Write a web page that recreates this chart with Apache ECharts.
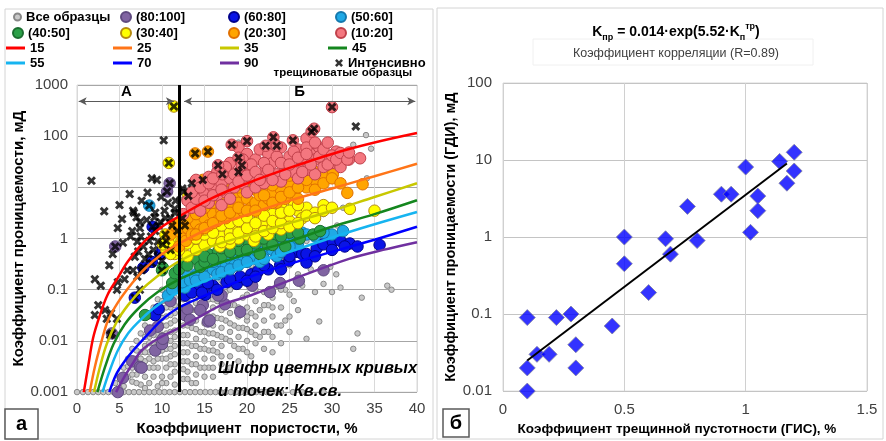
<!DOCTYPE html>
<html>
<head>
<meta charset="utf-8">
<title>Проницаемость и пористость</title>
<script src="https://cdn.jsdelivr.net/npm/echarts/dist/echarts.min.js"></script>
<style>
html, body { margin: 0; padding: 0; background: #fff; }
#main { width: 886px; height: 441px; }
</style>
</head>
<body>
<div id="main"></div>
<script>
// ---- panel а: porosity (%) vs permeability (mD) ----
var greyPts = [
  [0,0.001],[0.7,0.001],[1.3,0.001],[1.9,0.001],[2.5,0.001],[3.1,0.001],[3.7,0.001],[4.3,0.001],[4.9,0.001],[5.5,0.001],
  [6.1,0.001],[6.7,0.001],[7.3,0.001],[7.9,0.001],[8.5,0.001],[9.1,0.001],[9.7,0.001],[10.3,0.001],[10.9,0.001],[11.5,0.001],
  [12.1,0.001],[12.7,0.001],[13.3,0.001],[13.9,0.001],[14.5,0.001],[15.1,0.001],[15.7,0.001],[16.3,0.001],[16.9,0.001],[17.5,0.001],
  [18.1,0.001],[18.7,0.001],[19.3,0.001],[19.9,0.001],[20.5,0.001],[21.1,0.001],[21.7,0.001],[22.3,0.001],[22.9,0.001],[23.5,0.001],
  [24,0.001],[25.4,0.001],[26.5,0.001],[29,0.001],
  [4.5,0.0015],[5,0.002],[5.5,0.0013],[5.5,0.003],[6,0.002],[6,0.0045],[6.5,0.0016],[6.5,0.003],[6.5,0.007],[7,0.0022],
  [7,0.0045],[7,0.01],[7.5,0.0014],[7.5,0.003],[7.5,0.006],[7.5,0.014],[8,0.002],[8,0.004],[8,0.008],[8,0.02],
  [8.5,0.0015],[8.5,0.003],[8.5,0.006],[8.5,0.012],[8.5,0.03],[9,0.002],[9,0.004],[9,0.009],[9,0.018],[9,0.045],
  [9.5,0.0013],[9.5,0.003],[9.5,0.006],[9.5,0.013],[9.5,0.028],[9.5,0.065],[10,0.002],[10,0.0045],[10,0.009],[10,0.02],
  [10,0.04],[10,0.1],[10.5,0.0015],[10.5,0.003],[10.5,0.007],[10.5,0.014],[10.5,0.03],[10.5,0.06],[11,0.002],[11,0.005],
  [11,0.01],[11,0.022],[11,0.045],[11,0.09],[11.5,0.0014],[11.5,0.0035],[11.5,0.008],[11.5,0.016],[11.5,0.035],[11.5,0.07],
  [12.5,0.0018],[12.5,0.004],[12.5,0.009],[12.5,0.02],[12.5,0.045],[12.5,0.1],[13,0.0025],[13,0.006],[13,0.013],[13,0.03],
  [13,0.065],[13.5,0.0015],[13.5,0.0035],[13.5,0.008],[13.5,0.018],[13.5,0.04],[13.5,0.09],[14,0.0022],[14,0.005],[14,0.011],
  [14,0.025],[14,0.055],[14.5,0.003],[14.5,0.007],[14.5,0.015],[14.5,0.035],[14.5,0.075],[15,0.002],[15,0.0045],[15,0.01],
  [15,0.022],[15,0.05],[15,0.12],[15.5,0.003],[15.5,0.0065],[15.5,0.014],[15.5,0.03],[15.5,0.065],[16,0.002],[16,0.0045],
  [16,0.009],[16,0.02],[16,0.045],[16,0.1],[16.5,0.006],[16.5,0.013],[16.5,0.028],[16.5,0.06],[17,0.0035],[17,0.008],
  [17,0.018],[17,0.04],[17,0.15],[17.5,0.0025],[17.5,0.011],[17.5,0.025],[17.5,0.09],[18,0.005],[18,0.015],[18,0.035],
  [18,0.2],[18.5,0.008],[18.5,0.02],[18.5,0.05],[18.5,0.12],[19,0.004],[19,0.012],[19,0.03],[19,0.25],[19.5,0.007],
  [19.5,0.018],[19.5,0.07],[20,0.01],[20,0.025],[20,0.045],[20,0.15],[20.5,0.005],[20.5,0.015],[20.5,0.035],[20.5,0.3],
  [21,0.009],[21,0.02],[21,0.06],[21.5,0.012],[21.5,0.04],[21.5,0.2],[22,0.007],[22,0.025],[22,0.09],[22.5,0.015],
  [22.5,0.05],[23,0.006],[23,0.03],[23,0.07],[23.5,0.02],[23.5,0.12],[24,0.045],[24,0.009],[24,0.4],[24.5,0.025],
  [24.5,0.1],[25,0.015],[25,0.3],[25.5,0.06],[25.5,0.5],[26,0.04],[26,0.2],[26.5,0.12],[27,0.011],[27,0.5],
  [27.5,0.25],[28,0.09],[28.5,0.024],[28.5,0.6],[29,0.13],[30,0.09],[30.5,0.2],[31,0.11],[32.5,0.007],[33,0.014],
  [33.5,0.07],[36.5,0.12],[37,0.1],
  [5,0.0012],[5.5,0.0022],[6,0.0032],[6.5,0.0022],[7,0.0015],[7,0.0065],[7.5,0.0045],[8,0.0012],[8,0.006],[8,0.012],
  [8.5,0.0045],[8.5,0.009],[8.5,0.018],[9,0.003],[9,0.0065],[9,0.013],[9,0.03],[9.5,0.0045],[9.5,0.009],[9.5,0.02],
  [10,0.0015],[10,0.0065],[10,0.013],[10,0.028],[10,0.06],[10.5,0.0045],[10.5,0.01],[10.5,0.02],[10.5,0.045],[11,0.0035],
  [11,0.007],[11,0.015],[11,0.032],[11,0.065],[11.5,0.0025],[11.5,0.0055],[11.5,0.012],[11.5,0.025],[11.5,0.05],[12.5,0.0028],
  [12.5,0.006],[12.5,0.013],[12.5,0.03],[12.5,0.065],[13,0.0018],[13,0.004],[13,0.009],[13,0.02],[13,0.045],[14,0.0015],
  [14,0.0035],[14,0.008],[14,0.017],[14,0.04],[14,0.08],[15,0.003],[15,0.007],[15,0.015],[15,0.035],[15,0.075],
  [16,0.003],[16,0.0065],[16,0.014],[16,0.03],[16,0.065],[17,0.005],[17,0.012],[17,0.027],[17,0.06],[18,0.003],
  [18,0.01],[18,0.022],[18,0.05],[18,0.1],[19,0.007],[19,0.018],[19,0.045],[19,0.12],[20,0.006],[20,0.017],
  [20,0.03],[20,0.08],[21,0.013],[21,0.03],[21,0.1],[22,0.015],[22,0.05],[23,0.012],[23,0.045],[24,0.02],
  [24,0.1],[25,0.03],[25,0.08],
  [12,6],[14.5,7],[16.6,13],[19,75],[29.8,0.28],[30.6,1.8],[31.3,4],[33.4,12],[34.1,15],[32.5,68],
  [34,105],[34.6,57],[29,3],[27,0.9]
];
var purplePts = [
  [4.8,0.001],[5.4,0.0019],[6.5,0.004],[7.4,0.0031],[7.6,0.003],[9.2,0.0065],[10,0.0087],[10.1,0.011],[9.5,0.019],[8.6,0.016],
  [11,0.06],[12.7,0.032],[13,0.042],[13.3,0.026],[14.8,0.05],[14.5,0.04],[15.4,0.024],[15.6,0.025],[17.4,0.052],[19.2,0.037],
  [17,0.077],[16.6,0.077],[20.6,0.12],[22.7,0.09],[23.9,0.135],[26.1,0.15],[29,0.24],[4.1,0.014],[4.5,0.7],[10.9,12],[10.6,8.3]
];
var bluePts = [
  [15.1,0.08],[16,0.12],[17.6,0.14],[18.8,0.13],[19.2,0.18],[20.5,0.2],[21.3,0.23],[22.5,0.25],[23.5,0.45],[23.9,0.3],
  [25,0.37],[25.9,0.55],[26.5,0.5],[27,0.34],[28.2,0.65],[29,0.77],[29.4,1.2],[30.1,0.87],[31,0.9],[32.1,0.8],
  [35.6,0.75],[14.5,0.11],[8.9,1.7],[9.8,0.5],[6.8,0.07],[9.2,0.032],[9.6,0.042],[12.7,0.077],[13.5,0.088],[14.7,0.088],
  [15.4,0.135],[7.8,0.27],[10.1,0.6],[8.8,0.35],
  [16.5,0.1],[18,0.16],[20,0.15],[21,0.18],[22,0.3],[24,0.25],[25,0.45],[27,0.5],[28,0.45],[30,0.6],
  [31.5,0.7],[33,0.7]
];
var lightBluePts = [
  [12.5,0.12],[13,0.18],[14,0.2],[15,0.22],[15.5,0.3],[16,0.25],[16.5,0.2],[17,0.35],[17.5,0.28],[18,0.4],
  [18.5,0.3],[19,0.45],[19.5,0.35],[20,0.5],[20.5,0.6],[21,0.45],[21.5,0.35],[22,0.55],[22.5,0.7],[23,0.6],
  [23.5,0.45],[24,0.8],[24.5,0.65],[25,0.9],[25.5,1.1],[26,0.8],[26.5,1.3],[27,1.2],[30,1.2],[31.3,1.4],
  [10.7,0.077],[11.2,0.1],[12.7,0.11],[12.4,0.14],[13.3,0.15],[13.9,0.18],[8.5,4.4],
  [14,0.15],[15,0.18],[16,0.35],[17,0.22],[18,0.25],[19,0.3],[20,0.35],[21,0.6],[22,0.4],[23,0.8],
  [24,0.55],[25,0.7],[26,1.0],[28,1.1],[29,1.3]
];
var greenPts = [
  [8,0.032],[10.1,0.27],[10,0.24],[11.2,0.135],[11.5,0.21],[12,0.25],[12.7,0.33],[13.5,0.44],[14,0.4],[14.5,0.28],
  [15,0.35],[15.4,0.5],[16.6,0.56],[17,0.45],[18.6,0.7],[19,0.6],[20.1,0.87],[21.5,0.5],[22.4,0.77],[23,1.1],
  [24.5,0.7],[25,1.3],[26.2,1.0],[27.8,1.2],[28.6,1.4],
  [13,0.3],[15,0.45],[16,0.4],[17,0.65],[18,0.55],[19,0.9],[20,0.6],[21,0.8],[22,1.0],[23,0.75],
  [24,1.1],[26,1.3]
];
var yellowPts = [
  [10.5,0.6],[11,0.8],[11.5,0.5],[12,1.0],[12.3,0.9],[12.5,0.7],[13,1.3],[13,0.45],[13.5,0.9],[13.8,2.3],
  [14,1.6],[14,0.6],[14.5,1.1],[15,2.0],[15,0.75],[15.5,1.3],[16,0.9],[16,2.4],[16.5,1.6],[16.8,0.7],
  [17,1.1],[17,3],[17.5,2],[18,1.3],[18,0.8],[18.5,2.5],[19,1.6],[19,1.0],[19.5,3],[20,2],
  [20,1.2],[20.5,3.5],[20.8,0.9],[21,1.5],[21.5,2.5],[22,1.8],[22,4],[22.5,1.2],[23,3],[23.5,2],
  [24,4.5],[24,1.5],[24.5,3],[25,2.2],[25.5,5],[26,3.5],[26.5,2.5],[27,4],[28,3.2],[29,4.5],
  [32.1,3.8],[35,3.5],[10.1,0.77],[10.4,1.2],[13.1,6.8],[10.8,30],[11.4,380],
  [11,0.5],[12,0.6],[13,0.8],[14,1],[15,1.2],[15,1.5],[16,1.3],[17,1.8],[17,0.85],[18,2],
  [18,1],[19,1.3],[19,2.2],[20,1.6],[20,2.6],[21,1.1],[21,2],[22,1.4],[22,2.8],[23,1.6],
  [23,2.2],[24,2],[24,3.2],[25,1.7],[25,3.5],[26,2],[26,4.5],[27,2.8],[28,2.5],[29,3.5],
  [30,4]
];
var orangePts = [
  [11,1.2],[11.5,1.8],[12,1.4],[12,0.7],[12.5,2.2],[12.5,1.0],[12.8,0.9],[13,1.6],[13.5,2.8],[13.5,1.2],
  [14,2],[14.5,3.5],[14.5,1.5],[15,2.5],[15.5,4],[15.5,1.8],[16,3],[16.5,5],[16.5,2.2],[17,3.5],
  [17.5,6],[17.5,2.5],[18,4],[18.5,7],[18.5,3],[19,5],[19.5,8],[19.5,3.5],[20,6],[20.5,4],
  [21,9],[21,5],[21.5,7],[22,4.5],[22,11],[22.5,6],[23,8],[23.5,13],[23.5,5],[24,9],
  [24.5,6],[25,12],[25.5,8],[26,15],[26,6],[27,10],[27,20],[28,14],[29,18],[30.1,18],
  [31.8,7.8],[33.6,11.5],[13.9,46],[15.4,50],[14.8,14],
  [12,2],[13,2.5],[14,3],[14,1.2],[15,4],[15,1.6],[16,2],[16,5],[17,2.8],[17,7],
  [18,3.2],[18,9],[19,4],[19,10],[20,3.5],[20,9],[21,3.5],[21,12],[22,7],[23,5],
  [23,11],[24,6.5],[24,15],[25,8],[25,17],[26,10],[27,14],[28,9],[28,20],[29,12],
  [30,15],[31,12]
];
var pinkPts = [
  [12.5,3],[13,5.5],[13.5,4],[14,6],[14,14],[14.5,3.5],[15,8],[15.5,5],[15.5,16],[16,10],
  [16.5,7],[16.5,20],[17,12],[17,4.5],[17.5,8],[18,15],[18,30],[18,6],[18.5,10],[19,20],
  [19,60],[19.5,12],[20,8],[20,25],[20,45],[20.5,15],[21,10],[21,35],[21.5,55],[22,20],
  [22,12],[22.5,45],[23,30],[23.5,18],[24,60],[24,13],[24.5,25],[25,40],[25.5,20],[26,55],
  [26,15],[26.5,30],[27,90],[27,22],[27.5,45],[28,35],[28,18],[28.5,60],[29,25],[29.5,40],
  [30,30],[30.5,50],[31,25],[32,35],[33.3,37],
  [13.5,8],[14.5,10],[15,5.5],[15.5,12],[16,7],[16,15],[17,9],[17.5,25],[18.5,18],[19,13],
  [19.5,35],[20,17],[20.5,28],[21,20],[21.5,14],[22,30],[22.5,22],[23,14],[23.5,40],[24,30],
  [24.5,18],[25,28],[25.5,50],[26,38],[26.5,20],[27,60],[27.5,28],[28,75],[28.5,40],[29,55],
  [29.5,28],[30,42],[30.5,35],[31,47],[31.8,35],[32,48],[29.5,75],[27,45],
  [18.2,68],[20,80],[19,38],[16.6,27],[17.1,18],[19.4,27],[23.1,95],[22.2,65],[23.5,65],[25.4,83],
  [27.6,123],[27.9,140],[30,370]
];
var crossPts = [
  [1.7,13.5],[10.2,83],[8.8,15],[9.4,14],[6.2,7.4],[8.3,7.9],[3.2,3.4],[5.3,2.4],[6.7,3.2],[7.0,2.6],
  [9.2,3.2],[10.3,3.5],[11.5,3.2],[10.7,5],[12.4,9.5],[13.5,12],[12.5,8.3],[8.2,2.3],[9.8,2.1],[7.4,2.1],
  [6.6,3.5],[4.8,1.6],[5.4,0.83],[2.1,0.16],[2.8,0.12],[2.5,0.05],[2.1,0.032],[3.5,0.027],[3.3,0.04],[3.9,0.013],
  [4.7,0.1],[4.8,0.14],[5.6,0.16],[5.9,0.24],[6.6,0.24],[6.8,0.44],[7.2,0.56],[7.1,0.87],[7.8,0.7],[8.4,0.5],
  [6.5,1.4],[7.4,1.6],[9.2,1.4],[9.6,1.8],[10.4,2.5],[11.2,1.8],[11.8,1.4],[12.7,1.8],[9.5,0.87],[8.8,0.33],
  [10,0.37],[7.6,0.24],[11.5,3.8],[12.4,2.5],[4,0.035],[4.7,0.027],[7.1,0.18],[7.4,0.1],[32.8,155],
  [8,0.4],[8.5,0.9],[9,0.6],[9.5,0.45],[10.5,0.9],[11,0.6],[7.5,1.1],[8.7,1.1],[9.1,2.6],[11,2.5],
  [5,4.5],[7.6,5.5],[9.9,6.5],[11.6,5.5],[6.3,1.1],[3.8,0.3],[4.2,0.5],
  [18.2,68],[20,80],[19,38],[16.6,27],[17.1,18],[19.4,27],[19,20],[23.1,95],[22.2,65],[23.5,65],
  [25.4,83],[27.6,123],[27.9,140],[30,370],[13.9,46],[15.4,50],[14.8,14],[10.8,30],[11.4,380],[13.1,6.8],
  [10.1,0.77],[10.4,1.2],[10.9,12],[10.6,8.3],[8.5,4.4],[4.5,0.7],[4.1,0.014],[8.9,1.7],[6.8,0.07],[7.8,0.27],
  [10,0.24]
];
// Kv.sv. iso-curves
var curve15 = [[0.8,0.001],[1.3,0.0031],[1.9,0.0115],[2.7,0.032],[3.6,0.08],[4.8,0.17],[6,0.36],[8,0.9],[10,1.7],[12,2.7],[16,6.3],[20,12],[25,24],[30,45],[35,75],[40,115]];
var curve25 = [[1.5,0.001],[2.1,0.0031],[2.9,0.01],[3.6,0.024],[4.8,0.056],[6.5,0.135],[8,0.26],[10,0.5],[12,0.8],[16,1.7],[20,2.9],[25,5.5],[30,9.5],[35,16.5],[40,29]];
var curve35 = [[2.0,0.001],[2.7,0.0031],[3.5,0.0087],[4.7,0.024],[6,0.05],[7.6,0.1],[9.2,0.17],[12,0.36],[16,0.72],[20,1.15],[25,2.0],[30,3.5],[35,6.5],[40,12]];
var curve45 = [[2.4,0.001],[3.3,0.0031],[4.3,0.0087],[5.6,0.021],[7.4,0.046],[9.5,0.09],[12,0.16],[16,0.3],[20,0.5],[25,0.88],[30,1.7],[35,3],[40,5.6]];
var curve55 = [[3.0,0.001],[3.8,0.0025],[4.8,0.0065],[6,0.014],[7.6,0.027],[9.5,0.05],[12,0.09],[16,0.17],[20,0.3],[25,0.55],[30,1.05],[35,1.9],[40,3.3]];
var curve70 = [[3.8,0.001],[4.6,0.0022],[5.6,0.004],[6.6,0.0065],[8.6,0.015],[10,0.026],[12,0.045],[16,0.09],[20,0.17],[25,0.32],[30,0.55],[35,0.95],[40,1.7]];
var curve90 = [[4.6,0.001],[5.5,0.0019],[6.5,0.0035],[7.6,0.0065],[9.5,0.011],[12,0.018],[14.5,0.03],[17,0.05],[20.4,0.077],[26.2,0.18],[32,0.4],[36,0.6],[40,0.85]];
var zoneBorder = 12;
var arrowLevel = 480;
var yTicksA = ['0.001', '0.01', '0.1', '1', '10', '100', '1000'];

// ---- panel б: fracture porosity (%) vs well-test permeability (mD) ----
var fracX = [0.1,0.1,0.1,0.14,0.19,0.22,0.28,0.3,0.3,0.45,0.5,0.5,0.6,0.67,0.69,0.8,1.02,0.76,0.9,0.94,1.0,1.05,1.05,1.14,1.17,1.2,1.2];
var permY = [0.09,0.02,0.01,0.03,0.03,0.09,0.1,0.04,0.02,0.07,0.45,1.0,0.19,0.95,0.6,0.9,1.15,2.5,3.6,3.6,8.1,3.4,2.2,9.6,5.0,7.2,12.6];
var trendX = [0.1, 1.17];
var trendY = [0.025, 9.0];
var yTicksB = ['0.01', '0.1', '1', '10', '100'];

var FONT = 'Liberation Sans, Arial, sans-serif';

function pairs(xs, ys) {
    return xs.map(function (x, i) { return [x, ys[i]]; });
}
function logLabel(ticks, minExp) {
    return function (v) { return ticks[Math.round(Math.log10(v)) - minExp]; };
}

// bold "x" marker
var crossPath = 'path://M0,2.3L2.3,0L5,2.7L7.7,0L10,2.3L7.3,5L10,7.7L7.7,10L5,7.3L2.3,10L0,7.7L2.7,5Z';

function dots(name, data, fill, border, size) {
    return {
        name: name, type: 'scatter', xAxisIndex: 0, yAxisIndex: 0, data: data,
        symbolSize: size || 11.5,
        itemStyle: { color: fill, borderColor: border, borderWidth: 1, opacity: 1 }
    };
}
function curve(name, data, color) {
    return {
        name: name, type: 'line', xAxisIndex: 0, yAxisIndex: 0, data: data,
        symbol: 'none', showSymbol: false, smooth: 0.35,
        lineStyle: { color: color, width: 2.5 }, itemStyle: { color: color }
    };
}

// legend placement: [name, left, centerY, iconW, iconH, icon]
var legendLayout = [
    ['Все образцы', 13, 17, 7, 7, 'circle'], ['(80:100]', 120, 17, 10, 10, 'circle'], ['(60:80]', 228, 17, 10, 10, 'circle'], ['(50:60]', 335, 17, 10, 10, 'circle'],
    ['(40:50]', 12, 33, 10, 10, 'circle'], ['(30:40]', 120, 33, 10, 10, 'circle'], ['(20:30]', 228, 33, 10, 10, 'circle'], ['(10:20]', 335, 33, 10, 10, 'circle'],
    ['15', 6, 48, 19, 3, 'rect'], ['25', 113, 48, 19, 3, 'rect'], ['35', 220, 48, 19, 3, 'rect'], ['45', 328, 48, 19, 3, 'rect'],
    ['55', 6, 63, 19, 3, 'rect'], ['70', 113, 63, 19, 3, 'rect'], ['90', 220, 63, 19, 3, 'rect'], ['Интенсивно', 335, 63, 8, 8, crossPath]
];
var legends = legendLayout.map(function (l) {
    return {
        data: [{ name: l[0], icon: l[5] }], left: l[1], top: l[2] - 8, itemWidth: l[3], itemHeight: l[4],
        padding: 0, itemGap: 0, selectedMode: false,
        textStyle: { fontFamily: FONT, fontWeight: 'bold', fontSize: 13, color: '#000', lineHeight: 16 }
    };
});

var axisLabel = { fontFamily: FONT, fontSize: 15, color: '#404040' };
var axisName = { fontFamily: FONT, fontWeight: 'bold', fontSize: 15, color: '#000' };

var option = {
    animation: false,
    backgroundColor: '#fff',
    legend: legends,
    grid: [
        { left: 77, right: 469, top: 85, bottom: 39, show: true, borderColor: '#d9d9d9', borderWidth: 1 },
        { left: 503, right: 19, top: 83, bottom: 43, show: true, borderColor: '#d9d9d9', borderWidth: 1 }
    ],
    xAxis: [
        {
            gridIndex: 0, type: 'value', min: 0, max: 40, interval: 5,
            name: 'Коэффициент  пористости, %', nameLocation: 'middle', nameGap: 20, nameTextStyle: axisName,
            axisLine: { show: false }, axisTick: { show: false },
            axisLabel: Object.assign({ margin: 9 }, axisLabel),
            splitLine: { lineStyle: { color: '#d9d9d9', width: 1 } }
        },
        {
            gridIndex: 1, type: 'value', min: 0, max: 1.5, interval: 0.5,
            name: 'Коэффициент трещинной пустотности (ГИС), %', nameLocation: 'middle', nameGap: 22,
            nameTextStyle: Object.assign({}, axisName, { fontSize: 13.5, padding: [0, 16, 0, 0] }),
            axisLine: { show: false }, axisTick: { show: false },
            axisLabel: Object.assign({ margin: 11 }, axisLabel),
            splitLine: { lineStyle: { color: '#d0d0d0', width: 1 } }
        }
    ],
    yAxis: [
        {
            gridIndex: 0, type: 'log', logBase: 10, min: 0.001, max: 1000,
            name: 'Коэффициент проницаемости, мД', nameLocation: 'middle', nameGap: 51, nameTextStyle: axisName,
            axisLine: { show: false }, axisTick: { show: false },
            axisLabel: Object.assign({ margin: 9, formatter: logLabel(yTicksA, -3) }, axisLabel),
            splitLine: { lineStyle: { color: '#a6a6a6', width: 1 } }
        },
        {
            gridIndex: 1, type: 'log', logBase: 10, min: 0.01, max: 100,
            name: 'Коэффициент проницаемости (ГДИ), мД', nameLocation: 'middle', nameGap: 44,
            nameTextStyle: Object.assign({}, axisName, { fontSize: 14.5 }),
            axisLine: { show: false }, axisTick: { show: false },
            axisLabel: Object.assign({ margin: 11, formatter: logLabel(yTicksB, -2) }, axisLabel),
            splitLine: { lineStyle: { color: '#c4c4c4', width: 1 } }
        }
    ],
    graphic: [
        { type: 'rect', shape: { x: 5, y: 9, width: 428, height: 430 }, style: { fill: 'none', stroke: '#d4d4d4', lineWidth: 1 }, z: -10 },
        { type: 'rect', shape: { x: 437, y: 8, width: 446, height: 431 }, style: { fill: 'none', stroke: '#d4d4d4', lineWidth: 1 }, z: -10 },
        { type: 'rect', shape: { x: 5, y: 409, width: 33, height: 30 }, style: { fill: '#fff', stroke: '#595959', lineWidth: 1.5 }, z: 50 },
        { type: 'text', x: 21.5, y: 424, z: 51, style: { text: 'а', fontFamily: FONT, fontWeight: 'bold', fontSize: 20, fill: '#000', align: 'center', verticalAlign: 'middle' } },
        { type: 'rect', shape: { x: 443, y: 409, width: 26, height: 28 }, style: { fill: '#fff', stroke: '#595959', lineWidth: 1.5 }, z: 50 },
        { type: 'text', x: 456, y: 423, z: 51, style: { text: 'б', fontFamily: FONT, fontWeight: 'bold', fontSize: 20, fill: '#000', align: 'center', verticalAlign: 'middle' } },
        { type: 'text', x: 218, y: 368, z: 60, style: { text: 'Шифр цветных кривых', fontFamily: FONT, fontStyle: 'italic', fontWeight: 'bold', fontSize: 16.5, fill: '#000', align: 'left', verticalAlign: 'middle' } },
        { type: 'text', x: 218, y: 391, z: 60, style: { text: 'и точек: Кв.св.', fontFamily: FONT, fontStyle: 'italic', fontWeight: 'bold', fontSize: 16.5, fill: '#000', align: 'left', verticalAlign: 'middle' } },
        { type: 'text', x: 412, y: 73, z: 60, style: { text: 'трещиноватые образцы', fontFamily: FONT, fontWeight: 'bold', fontSize: 11.5, fill: '#000', align: 'right', verticalAlign: 'middle' } },
        { type: 'rect', shape: { x: 533, y: 39, width: 280, height: 26 }, style: { fill: 'none', stroke: '#f0f0f0', lineWidth: 1 }, z: 1 },
        {
            type: 'text', x: 676, y: 32, z: 60,
            style: {
                text: 'K{sub|пр} = 0.014·exp(5.52·K{sub|п}{sup|тр})',
                fontFamily: FONT, fontWeight: 'bold', fontSize: 14, fill: '#000', align: 'center', verticalAlign: 'middle',
                rich: {
                    sub: { fontFamily: FONT, fontWeight: 'bold', fontSize: 9, fill: '#000', verticalAlign: 'bottom', lineHeight: 20, padding: [6, 0, 0, 0] },
                    sup: { fontFamily: FONT, fontWeight: 'bold', fontSize: 9, fill: '#000', verticalAlign: 'top', lineHeight: 20, padding: [0, 0, 6, 0] }
                }
            }
        },
        { type: 'text', x: 676, y: 54, z: 60, style: { text: 'Коэффициент корреляции (R=0.89)', fontFamily: FONT, fontSize: 12.5, fill: '#404040', align: 'center', verticalAlign: 'middle' } }
    ],
    series: [
        dots('Все образцы', greyPts, '#c9c9c9', '#888888', 5.5),
        dots('(80:100]', purplePts, '#8064a2', '#5f4a80'),
        dots('(60:80]', bluePts, '#0a14e6', '#00008b'),
        dots('(50:60]', lightBluePts, '#1fa9e6', '#1478ad'),
        dots('(40:50]', greenPts, '#2ca048', '#1b6e30'),
        dots('(30:40]', yellowPts, '#ffff00', '#b58a10'),
        dots('(20:30]', orangePts, '#ffa500', '#e07000'),
        dots('(10:20]', pinkPts, '#f4777f', '#c0404a'),
        curve('15', curve15, '#ff0000'),
        curve('25', curve25, '#ff7518'),
        curve('35', curve35, '#c8c800'),
        curve('45', curve45, '#14861e'),
        curve('55', curve55, '#16b4f0'),
        curve('70', curve70, '#0000ff'),
        curve('90', curve90, '#7030a0'),
        {
            name: 'Интенсивно', type: 'scatter', xAxisIndex: 0, yAxisIndex: 0, data: crossPts,
            symbol: crossPath, symbolSize: 9, itemStyle: { color: '#000' }
        },
        {
            type: 'line', xAxisIndex: 0, yAxisIndex: 0, data: [], silent: true,
            markLine: {
                silent: true, symbol: ['none', 'none'],
                label: { show: false },
                lineStyle: { color: '#000', width: 3, type: 'solid' },
                data: [{ xAxis: zoneBorder }]
            }
        },
        {
            type: 'line', xAxisIndex: 0, yAxisIndex: 0, data: [], silent: true,
            markLine: {
                silent: true, symbol: ['arrow', 'arrow'], symbolSize: [6, 8],
                lineStyle: { color: '#595959', width: 1, type: 'solid' },
                label: { show: true, position: 'middle', formatter: '{b}', distance: 2, fontFamily: FONT, fontWeight: 'bold', fontSize: 15, color: '#000' },
                data: [
                    [{ coord: [0.2, arrowLevel], name: 'А' }, { coord: [zoneBorder - 0.6, arrowLevel] }],
                    [{ coord: [zoneBorder + 0.6, arrowLevel], name: 'Б' }, { coord: [39.8, arrowLevel] }]
                ]
            }
        },
        {
            name: 'ГДИ', type: 'scatter', xAxisIndex: 1, yAxisIndex: 1, data: pairs(fracX, permY),
            symbol: 'diamond', symbolSize: 16,
            itemStyle: { color: '#0000ff', borderColor: '#8080a0', borderWidth: 1 }
        },
        {
            name: 'тренд', type: 'line', xAxisIndex: 1, yAxisIndex: 1, data: pairs(trendX, trendY),
            symbol: 'none', lineStyle: { color: '#000', width: 2 }, z: 5
        }
    ]
};

var myChart = echarts.init(document.getElementById('main'));
myChart.setOption(option);
</script>
</body>
</html>
